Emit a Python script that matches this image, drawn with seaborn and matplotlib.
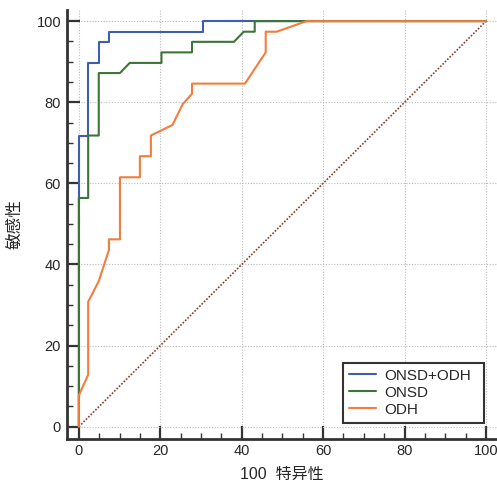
import pandas as pd
import matplotlib
matplotlib.use("Agg")
import matplotlib.pyplot as plt
import seaborn as sns
from matplotlib.ticker import MultipleLocator

# ROC curves (100-specificity, sensitivity)
combo_x = [0, 0, 2.3, 2.3, 4.9, 4.9, 7.4, 7.4, 30.5, 30.5, 100]
combo_y = [0, 71.8, 71.8, 89.7, 89.7, 94.9, 94.9, 97.4, 97.4, 100, 100]

onsd_x = [0, 0, 2.3, 2.3, 4.9, 4.9, 10.1, 12.5, 20.3, 20.3, 27.8, 27.8, 38.1, 40.5, 43.2, 43.2, 100]
onsd_y = [0, 56.4, 56.4, 71.8, 71.8, 87.2, 87.2, 89.7, 89.7, 92.3, 92.3, 94.9, 94.9, 97.4, 97.4, 100, 100]

odh_x = [0, 0, 2.3, 2.3, 4.9, 7.4, 7.4, 10.1, 10.1, 15.0, 15.0, 17.7, 17.7, 23.0, 25.5, 27.8, 27.8,
         40.8, 45.9, 45.9, 48.6, 55.9, 100]
odh_y = [0, 7.7, 12.8, 30.8, 35.9, 43.6, 46.2, 46.2, 61.5, 61.5, 66.7, 66.7, 71.8, 74.4, 79.5, 82.1, 84.6,
         84.6, 92.3, 97.4, 97.4, 100, 100]

diag = [0, 100]
names = ["ONSD+ODH", "ONSD", "ODH"]
colors = ["#3f5fae", "#3d7536", "#f47c3c"]
ticks = [0, 20, 40, 60, 80, 100]

frames = []
for name, xs, ys in zip(names, [combo_x, onsd_x, odh_x], [combo_y, onsd_y, odh_y]):
    frames.append(pd.DataFrame({"fpr": xs, "tpr": ys, "curve": name}))
df = pd.concat(frames, ignore_index=True)

sns.set_style("white")
plt.rcParams["font.family"] = ["Liberation Sans", "Noto Sans CJK SC", "DejaVu Sans"]

fig = plt.figure(figsize=(4.97, 4.86), dpi=100)
ax = fig.add_axes([0.134, 0.097, 0.866, 0.882])

ax.plot(diag, diag, linestyle=(0, (1, 1)), color="#8b3a2a", lw=1.2, zorder=1)
sns.lineplot(data=df, x="fpr", y="tpr", hue="curve", hue_order=names, palette=colors,
             sort=False, estimator=None, units="curve", lw=1.5, ax=ax, zorder=3)

ax.set_xlim(-3, 102.7)
ax.set_ylim(-3, 102.7)
ax.set_xticks(ticks)
ax.set_yticks(ticks)
ax.xaxis.set_minor_locator(MultipleLocator(5))
ax.yaxis.set_minor_locator(MultipleLocator(5))
ax.tick_params(which="both", bottom=True, left=True, top=False, right=False)
ax.tick_params(which="major", direction="in", length=9.5, width=1.6, color="#333333",
               labelsize=10.5, pad=4)
ax.tick_params(which="minor", direction="in", length=4.5, width=1.0, color="#333333")
ax.grid(True, which="major", linestyle=(0, (1, 1.5)), color="#bbbbbb", lw=0.8)
ax.set_axisbelow(True)

for side in ["top", "right"]:
    ax.spines[side].set_visible(False)
for side in ["left", "bottom"]:
    ax.spines[side].set_linewidth(2)
    ax.spines[side].set_color("#333333")

ax.set_xlabel("100  特异性", fontsize=11.5, labelpad=6)
ax.set_ylabel("敏感性", fontsize=12, labelpad=10)

leg = ax.legend(loc="upper left", bbox_to_anchor=(0.6414, 0.0, 0.329, 0.178), mode="expand",
                borderaxespad=0, fancybox=False, framealpha=1, edgecolor="#333333", fontsize=11,
                handlelength=1.8, handletextpad=0.55, labelspacing=0.2, borderpad=0.4,
                title=None)
leg.get_frame().set_linewidth(1.5)

fig.savefig("out.png", dpi=100)
